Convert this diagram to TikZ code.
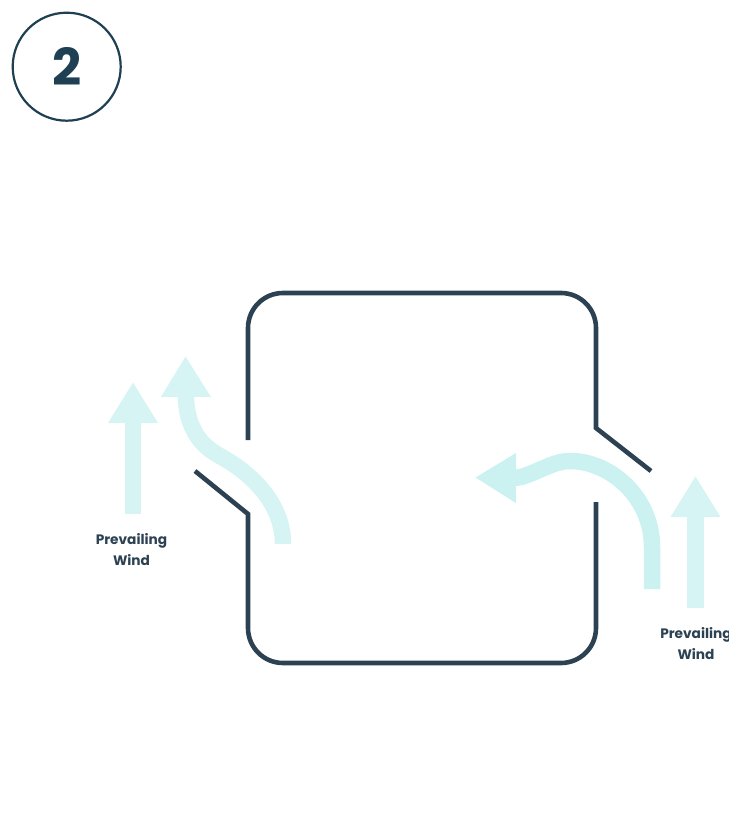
\documentclass[tikz,border=0pt]{standalone}
\usepackage{fontspec}
\setmainfont{Poppins}
\usetikzlibrary{arrows.meta}
\definecolor{wallblue}{HTML}{2C4152}
\definecolor{badgeblue}{HTML}{1F3F53}
\definecolor{windpale}{HTML}{D5F4F3}
\definecolor{windflow}{HTML}{CBF1F1}
\tikzset{
  wall/.style={draw=wallblue,line width=4.6pt},
  wind/.style={line width=16.5pt,-{Triangle[width=47pt,length=41pt]}},
  windlabel/.style={text=wallblue,font=\bfseries\fontsize{13.7pt}{21pt}\selectfont,align=center},
}
\begin{document}
\begin{tikzpicture}[x=1pt,y=-1pt]
\useasboundingbox (0,0) rectangle (728,824);
% step badge
\node[circle,draw=badgeblue,line width=2.2pt,minimum size=108pt,inner sep=0pt,text=badgeblue,font=\bfseries\fontsize{51pt}{51pt}\selectfont] (badge) at (66.7,66.7) {2};
% building
\draw[wall] (651,471) -- (596,428) -- (596,400) [rounded corners=35pt] -- (596,293) -- (248,293) -- (248,440);
\draw[wall] (195,471) -- (248,514) -- (248,540) [rounded corners=35pt] -- (248,663) -- (596,663) -- (596,502);
% prevailing wind
\draw[wind,windpale] (133,514) -- (133,382);
\draw[wind,windpale] (695.5,608) -- (695.5,476);
\node[windlabel] (windleft) at (131.5,550) {Prevailing\\Wind};
\node[windlabel] (windright) at (696,644) {Prevailing\\Wind};
% flow through the openings
\draw[wind,windpale] (283,544) .. controls (283,508) and (258,477) .. (220,456)
  .. controls (195,443) and (186,420) .. (185.5,356);
\draw[wind,windflow] (652,589) -- (652,547) .. controls (652,497) and (610,461) .. (570,461)
  .. controls (550,461) and (530,478) .. (475,477.5);
\end{tikzpicture}
\end{document}
